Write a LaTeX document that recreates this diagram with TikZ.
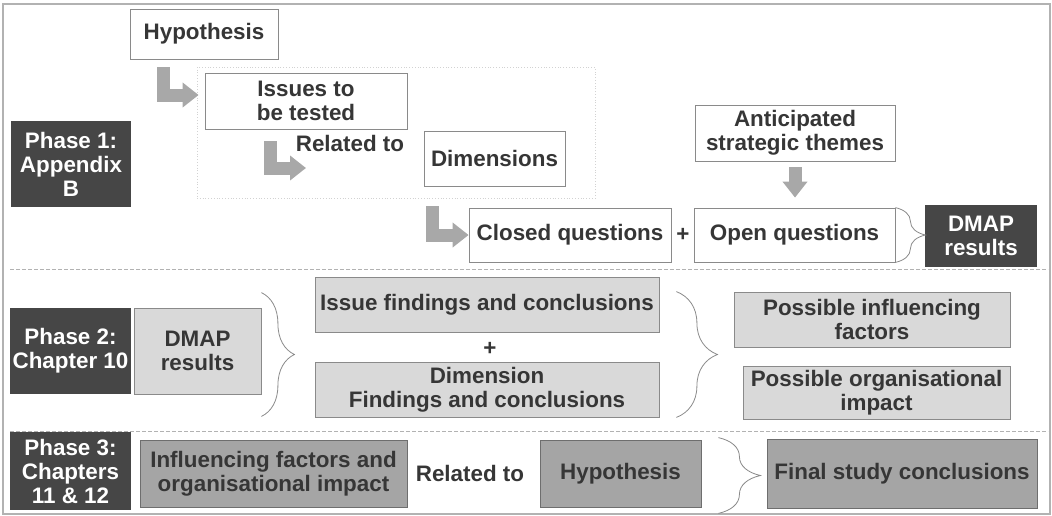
\documentclass[tikz,border=0pt]{standalone}
\usepackage{fontspec}
\setmainfont{Liberation Sans}
\usetikzlibrary{arrows.meta,decorations.pathreplacing}

\definecolor{darkfill}{HTML}{464646}
\definecolor{lightfill}{HTML}{D9D9D9}
\definecolor{midfill}{HTML}{A5A5A5}
\definecolor{edgegray}{HTML}{8A8A8A}
\definecolor{arrowgray}{HTML}{A8A8A8}
\definecolor{textgray}{HTML}{363636}

\tikzset{
  plainbox/.style={rectangle, draw=edgegray, fill=white, inner sep=2pt, align=center},
  phasebox/.style={rectangle, fill=darkfill, text=white, inner sep=1pt, align=center},
  findbox/.style={rectangle, draw=edgegray, fill=lightfill, inner sep=2pt, align=center},
  studybox/.style={rectangle, draw=edgegray!80!black, fill=midfill, inner sep=2pt, align=center},
  bigarrow/.style={draw=arrowgray, line width=6.5pt, -{Triangle[width=12pt,length=8pt]}},
  curly/.style={draw=edgegray, thin, decorate, decoration={brace, amplitude=#1}},
  splitline/.style={draw=gray!60, dash pattern=on 2pt off 1pt}
}

\begin{document}
\begin{tikzpicture}[x=0.5pt, y=-0.5pt, font=\fontsize{11.2}{12}\selectfont\bfseries, text=textgray]
    \useasboundingbox (0,0) rectangle (1052,515);
    \draw [gray!60, line width=0.6pt] (3,4) rectangle (1050,514);

    % Phase 1
    \node(100) at (71,164) [phasebox, minimum width=60pt, minimum height=43pt] {Phase 1:\\Appendix\\B};
    \node(101) at (204,34) [plainbox, minimum width=74pt, minimum height=25pt] {Hypothesis};
    \node(110) at (396,132.5) [rectangle, draw=gray!35, densely dotted, minimum width=199pt, minimum height=65.5pt] {};
    \node(102) at (306,101) [plainbox, minimum width=101pt, minimum height=28pt] {Issues to\\be tested};
    \node(103) at (350,143) {Related to};
    \coordinate(105) at (306,168);
    \node(104) at (494.5,158.5) [plainbox, minimum width=70.5pt, minimum height=27.5pt] {Dimensions};
    \draw [bigarrow] ([xshift=17pt,yshift=-4pt]101.south west) |- ([xshift=-3pt,yshift=3pt]102.west);
    \draw [bigarrow] ([xshift=33pt,yshift=-6pt]102.south west) |- (105);

    \node(121) at (570,235) [plainbox, minimum width=101pt, minimum height=27pt] {Closed questions};
    \node(122) at (683,235) {+};
    \node(124) at (794.5,235) [plainbox, minimum width=100.5pt, minimum height=27pt] {Open questions};
    \node(123) at (795,133) [plainbox, minimum width=100pt, minimum height=28pt] {Anticipated\\strategic themes};
    \node(125) at (981,236) [phasebox, minimum width=56pt, minimum height=31pt] {DMAP\\results};
    \draw [bigarrow] ([xshift=118pt,yshift=-4pt]110.south west) |- (121.west);
    \draw [bigarrow] ([yshift=-3pt]123.south) -- ([yshift=5pt]123.south |- 124.north);
    \draw [curly=15pt] (124.north east) -- (124.south east);

    \draw [splitline] (10,269) -- (1048,269);

    % Phase 2
    \node(200) at (70.5,351) [phasebox, minimum width=60.5pt, minimum height=43pt] {Phase 2:\\Chapter 10};
    \node(201) at (197.5,351) [findbox, minimum width=63.5pt, minimum height=43pt] {DMAP\\results};
    \node(202) at (487,304.5) [findbox, minimum width=172pt, minimum height=27.5pt] {Issue findings and conclusions};
    \node(203) at (490,349) {+};
    \node(204) at (487,389.5) [findbox, minimum width=172pt, minimum height=27.5pt] {Dimension\\Findings and conclusions};
    \node(205) at (872,319.5) [findbox, minimum width=138pt, minimum height=27.5pt] {Possible influencing\\factors};
    \node(206) at (876.5,393) [findbox, minimum width=133.5pt, minimum height=24pt] {Possible organisational\\impact};
    \draw [curly=16.5pt] ([yshift=7.5pt]201.north east) -- ([yshift=-11pt]201.south east);
    \draw [curly=20.5pt] ([xshift=8.5pt,yshift=-7.5pt]202.north east) -- ([xshift=8.5pt]204.south east);

    \draw [splitline] (10,431) -- (1048,431);

    % Phase 3
    \node(300) at (70.5,471) [phasebox, minimum width=60.5pt, minimum height=39pt] {Phase 3:\\Chapters\\11 \& 12};
    \node(301) at (273.5,473.5) [studybox, minimum width=133.5pt, minimum height=33.5pt] {Influencing factors and\\organisational impact};
    \node(302) at (470,473) {Related to};
    \node(303) at (620.5,473.5) [studybox, minimum width=80.5pt, minimum height=33.5pt] {Hypothesis};
    \node(304) at (902,473.5) [studybox, minimum width=135pt, minimum height=34.5pt] {Final study conclusions};
    \draw [curly=21pt] ([xshift=8.5pt,yshift=1pt]303.north east) -- ([xshift=8.5pt,yshift=-3pt]303.south east);

\end{tikzpicture}
\end{document}
